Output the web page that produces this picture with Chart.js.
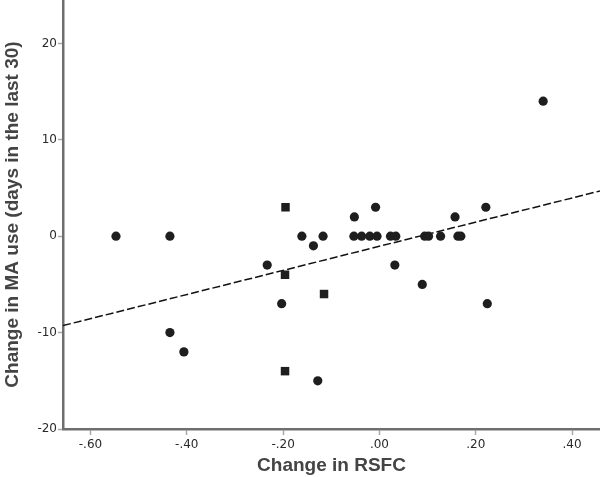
<!DOCTYPE html>
<html>
<head>
<meta charset="utf-8">
<script src="https://cdn.jsdelivr.net/npm/chart.js@4/dist/chart.umd.min.js"></script>
<style>
  html, body { margin: 0; padding: 0; background: #fff; }
  #wrap { width: 600px; height: 477px; position: relative; }
</style>
</head>
<body>
<div id="wrap"><canvas id="myChart"></canvas></div>
<script>
// 散布図のデータ（写真から読み取った値）
var rsfc_change = [-0.547, -0.435, -0.435, -0.406, -0.233, -0.203, -0.196, -0.196, -0.195, -0.161,
                   -0.137, -0.128, -0.117, -0.115, -0.053, -0.052, -0.037, -0.020, -0.008, -0.005,
                   0.023, 0.032, 0.034, 0.089, 0.094, 0.102, 0.127, 0.157, 0.163, 0.169,
                   0.221, 0.224, 0.340];
var ma_use_change = [0, 0, -10, -12, -3, -7, -4, -14, 3, 0,
                     -1, -15, 0, -6, 0, 2, 0, 0, 3, 0,
                     0, -3, 0, -5, 0, 0, 0, 2, 0, 0,
                     3, -7, 14];
// 四角く見える点の番号
var square_points = [6, 7, 8, 13];
// 回帰直線（両端の値）
var fit_x = [-0.657, 0.458];
var fit_y = [-9.27, 4.69];
// 目盛り
var x_ticks = [-0.6, -0.4, -0.2, 0, 0.2, 0.4];
var x_tick_labels = ['-.60', '-.40', '-.20', '.00', '.20', '.40'];
var y_ticks = [-20, -10, 0, 10, 20];
var y_tick_labels = ['-20', '-10', '0', '10', '20'];

var points = rsfc_change.map(function(x, i){ return {x: x, y: ma_use_change[i]}; });
var styles = rsfc_change.map(function(x, i){ return square_points.indexOf(i) >= 0 ? 'rect' : 'circle'; });
var radii = rsfc_change.map(function(x, i){ return square_points.indexOf(i) >= 0 ? 6 : 4.6; });
var fit_line = fit_x.map(function(x, i){ return {x: x, y: fit_y[i]}; });

var axis_color = '#6e6e6e';
var tick_color = '#a8a8a8';
var tick_font = {family: 'DejaVu Sans', size: 12};
var title_font = {family: 'Liberation Sans', size: 19, weight: 'bold'};

//ラベル分の余白を消す
function no_padding(){ return {left: 0, top: 0, right: 0, bottom: 0}; }

var ctx = document.getElementById('myChart');
new Chart(ctx, {
    type: 'scatter',
    data: {
        datasets: [{
            data: points,
            pointStyle: styles,
            pointRadius: radii,
            backgroundColor: '#1e1e1e',
            borderColor: '#1e1e1e',
            borderWidth: 0
        }, {
            type: 'line',
            data: fit_line,
            borderColor: '#111',
            borderWidth: 1.5,
            borderDash: [8, 3],
            pointRadius: 0,
            fill: false
        }]
    },
    options: {
        responsive: true,
        maintainAspectRatio: false,
        animation: false,
        layout: {padding: 0, autoPadding: false},
        plugins: {legend: {display: false}, tooltip: {enabled: false}},
        scales: {
            x: {
                type: 'linear',
                min: fit_x[0],
                max: fit_x[1],
                afterBuildTicks: function(scale){
                    scale.ticks = x_ticks.map(function(v){ return {value: v}; });
                },
                afterFit: function(scale){
                    scale.height = 48;
                    scale.getPadding = no_padding;
                },
                ticks: {
                    font: tick_font,
                    color: '#2a2a2a',
                    padding: 3,
                    maxRotation: 0,
                    callback: function(v){ return x_tick_labels[x_ticks.indexOf(v)]; }
                },
                grid: {drawOnChartArea: false, tickLength: 6, color: tick_color, tickWidth: 1.5},
                border: {color: axis_color, width: 2.5},
                title: {display: true, text: 'Change in RSFC', font: title_font, color: '#444', padding: {top: 5, bottom: 0}}
            },
            y: {
                type: 'linear',
                min: -20,
                max: 24.5,
                afterBuildTicks: function(scale){
                    scale.ticks = y_ticks.map(function(v){ return {value: v}; });
                },
                afterFit: function(scale){
                    scale.width = 63;
                    scale.getPadding = no_padding;
                },
                ticks: {
                    font: tick_font,
                    color: '#2a2a2a',
                    padding: 1,
                    callback: function(v){ return y_tick_labels[y_ticks.indexOf(v)]; }
                },
                grid: {drawOnChartArea: false, tickLength: 5, color: tick_color, tickWidth: 1.5},
                border: {color: axis_color, width: 2.5},
                title: {display: true, text: 'Change in MA use (days in the last 30)', font: title_font, color: '#444', padding: {top: 1, bottom: 0}}
            }
        }
    }
});
</script>
</body>
</html>
